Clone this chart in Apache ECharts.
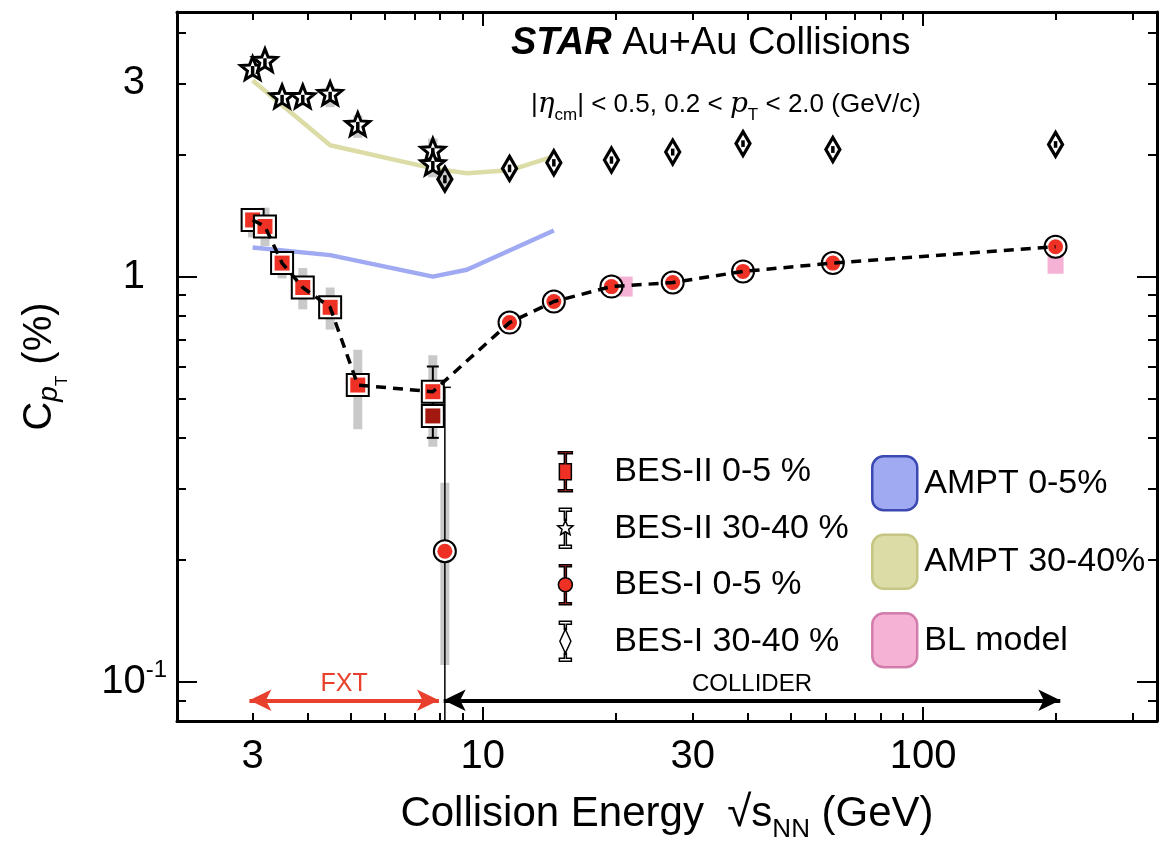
<!DOCTYPE html>
<html>
<head>
<meta charset="utf-8">
<script src="https://cdn.jsdelivr.net/npm/echarts@6/dist/echarts.min.js"></script>
<style>html,body{margin:0;padding:0;background:#fff}#chart{width:1161px;height:848px}</style>
</head>
<body>
<div id="chart"></div>
<script>
const FONT = "'Liberation Sans', Arial, Helvetica, sans-serif";

// ---------- axes ----------
const xRange = [2.02, 340];
const yRange = [0.08, 4.5];
const xMinorTicks = [3, 4, 5, 6, 7, 8, 9, 20, 30, 40, 50, 60, 70, 80, 90, 200, 300];
const xMajorTicks = [10, 100];
const xTickLabels = [3, 10, 30, 100];
const yMinorTicks = [0.09, 0.2, 0.3, 0.4, 0.5, 0.6, 0.7, 0.8, 0.9, 2, 3, 4];
const yMajorTicks = [0.1, 1];
const yTickLabels = [0.1, 1, 3];

// ---------- BES-II 0-5 % ----------
const besII05_x      = [3.0, 3.2, 3.5, 3.9, 4.5, 5.2, 7.7];
const besII05_y      = [1.38, 1.33, 1.08, 0.94, 0.84, 0.54, 0.52];
const besII05_statLo = [1.35, 1.30, 1.06, 0.92, 0.82, 0.52, 0.47];
const besII05_statHi = [1.41, 1.36, 1.10, 0.96, 0.86, 0.56, 0.60];
const besII05_sysLo  = [1.25, 1.19, 0.99, 0.83, 0.74, 0.42, 0.38];
const besII05_sysHi  = [1.46, 1.48, 1.15, 1.05, 0.94, 0.66, 0.64];
// second BES-II 0-5 % point at 7.7 GeV (dark marker)
const besII05b_x      = [7.7];
const besII05b_y      = [0.453];
const besII05b_statLo = [0.40];
const besII05b_statHi = [0.50];

// ---------- BES-II 30-40 % ----------
const besII3040_x      = [3.0, 3.2, 3.5, 3.9, 4.5, 5.2, 7.7, 7.7];
const besII3040_y      = [3.23, 3.38, 2.75, 2.75, 2.80, 2.35, 2.03, 1.88];
const besII3040_statLo = [3.15, 3.30, 2.69, 2.69, 2.74, 2.29, 1.98, 1.83];
const besII3040_statHi = [3.31, 3.46, 2.81, 2.81, 2.86, 2.41, 2.08, 1.93];
const besII3040_sysLo  = [3.10, 3.25, 2.64, 2.64, 2.62, 2.20, 1.76, 1.76];
const besII3040_sysHi  = [3.36, 3.52, 2.86, 2.86, 2.95, 2.50, 2.19, 2.19];

// ---------- BES-I 0-5 % ----------
const besI05_x      = [8.2, 11.5, 14.5, 19.6, 27, 39, 62.4, 200];
const besI05_y      = [0.21, 0.77, 0.868, 0.945, 0.967, 1.03, 1.08, 1.185];
const besI05_statLo = [0.05, 0.75, 0.85, 0.93, 0.95, 1.01, 1.06, 1.16];
const besI05_statHi = [0.533, 0.79, 0.886, 0.96, 0.985, 1.05, 1.10, 1.21];
const besI05_sysLo  = [0.11, 0.75, 0.85, 0.93, 0.95, 1.01, 1.06, 1.16];
const besI05_sysHi  = [0.31, 0.79, 0.886, 0.96, 0.985, 1.05, 1.10, 1.21];

// ---------- BES-I 30-40 % ----------
const besI3040_x      = [8.2, 11.5, 14.5, 19.6, 27, 39, 62.4, 200];
const besI3040_y      = [1.74, 1.85, 1.91, 1.94, 2.03, 2.13, 2.06, 2.12];
const besI3040_statLo = [1.70, 1.81, 1.87, 1.90, 1.99, 2.09, 2.02, 2.08];
const besI3040_statHi = [1.78, 1.89, 1.95, 1.98, 2.07, 2.17, 2.10, 2.16];

// ---------- models ----------
const ampt05_x   = [3.0, 4.5, 7.7, 9.2, 14.5];
const ampt05_y   = [1.18, 1.13, 1.00, 1.04, 1.30];
const ampt3040_x = [3.0, 4.5, 7.7, 9.2, 11.5, 14.5];
const ampt3040_y = [3.05, 2.11, 1.85, 1.80, 1.83, 1.98];
const bl_x = [21, 200];
const bl_y = [0.945, 1.076];

// ---------- FXT / COLLIDER arrows ----------
const fxtRange = [2.95, 7.95];
const colliderRange = [8.15, 205];
const arrowY = 0.09;

// ---------- colours ----------
const RED = '#ee3124', DARKRED = '#a3190f', SYS = '#c9c9c9', ARROWRED = '#e8402c';
const BLUE = '#9faaf3', BLUE_B = '#3c49b0', OLIVE = '#dcdca6', OLIVE_B = '#c6c684', PINK = '#f29fcb', PINK_B = '#c8679c';

function zip() { const arrs = Array.from(arguments); return arrs[0].map((_, i) => arrs.map(a => a[i])); }

function sysBars(xs, lo, hi) {
  return {
    type: 'custom', silent: true, z: 1, clip: true,
    data: zip(xs, lo, hi), encode: { x: 0, y: [1, 2] },
    renderItem: (params, api) => {
      const a = api.coord([api.value(0), api.value(2)]);
      const b = api.coord([api.value(0), api.value(1)]);
      return { type: 'rect', shape: { x: a[0] - 4.5, y: a[1], width: 9, height: b[1] - a[1] }, style: { fill: SYS } };
    }
  };
}
function statBars(xs, lo, hi, z, caps, lw) {
  return {
    type: 'custom', silent: true, z: z, clip: true,
    data: zip(xs, lo, hi), encode: { x: 0, y: [1, 2] },
    renderItem: (params, api) => {
      const a = api.coord([api.value(0), api.value(2)]);
      const b = api.coord([api.value(0), api.value(1)]);
      const st = { stroke: '#000', lineWidth: lw };
      const ch = [{ type: 'line', shape: { x1: a[0], y1: a[1], x2: b[0], y2: b[1] }, style: st }];
      if (caps) {
        ch.push({ type: 'line', shape: { x1: a[0] - 6, y1: a[1], x2: a[0] + 6, y2: a[1] }, style: st });
        ch.push({ type: 'line', shape: { x1: b[0] - 6, y1: b[1], x2: b[0] + 6, y2: b[1] }, style: st });
      }
      return { type: 'group', children: ch };
    }
  };
}
function starPts(cx, cy, R, r) {
  const p = [];
  for (let k = 0; k < 10; k++) {
    const ang = -Math.PI / 2 + k * Math.PI / 5;
    const rad = k % 2 === 0 ? R : r;
    p.push([cx + rad * Math.cos(ang), cy + rad * Math.sin(ang)]);
  }
  return p;
}
function drawMarker(kind, cx, cy, idx) {
  if (kind === 'square' || kind === 'squareDark') {
    return { type: 'group', children: [
      { type: 'rect', shape: { x: cx - 11, y: cy - 11, width: 22, height: 22 }, style: { fill: '#fff', stroke: '#000', lineWidth: 2 } },
      { type: 'rect', shape: { x: cx - 7.5, y: cy - 7.5, width: 15, height: 15 }, style: { fill: kind === 'square' ? RED : DARKRED } }
    ]};
  }
  if (kind === 'circle') {
    return { type: 'group', children: [
      { type: 'circle', shape: { cx: cx, cy: cy, r: 11 }, style: { fill: '#fff', stroke: '#000', lineWidth: 2 } },
      { type: 'circle', shape: { cx: cx, cy: cy, r: 7.5 }, style: { fill: RED } }
    ]};
  }
  if (kind === 'star') {
    return { type: 'polygon', shape: { points: starPts(cx, cy - 1, 12.5, 5.4) }, style: { fill: '#fff', stroke: '#000', lineWidth: 3 } };
  }
  // diamond
  return { type: 'polygon', shape: { points: [[cx, cy - 12], [cx + 7, cy], [cx, cy + 12], [cx - 7, cy]] },
    style: { fill: idx === 0 ? '#cfcfcf' : '#fff', stroke: '#000', lineWidth: 3.2 } };
}
function markers(name, xs, ys, kind, z) {
  return {
    type: 'custom', name: name, z: z, clip: true,
    data: zip(xs, ys), encode: { x: 0, y: 1 },
    renderItem: (params, api) => {
      const c = api.coord([api.value(0), api.value(1)]);
      return drawMarker(kind, c[0], c[1], params.dataIndex);
    }
  };
}

// dashed line through BES-II 0-5 % and BES-I 0-5 % (collider) points
const dashedData = zip(besII05_x, besII05_y).concat(zip(besI05_x.slice(1), besI05_y.slice(1)));

// legend icons (caps + marker)
const ICON_SQ = 'path://M3,0H17V2H11V12H16V28H11V38H17V40H3V38H9V28H4V12H9V2H3Z';
const ICON_STAR = 'path://M4,0H16V3H11V12H9V3H4Z M10,12L12.06,17.17L17.61,17.53L13.33,21.08L14.7,26.47L10,23.5L5.3,26.47L6.67,21.08L2.39,17.53L7.94,17.17Z M9,24H11V37H16V40H4V37H9Z';
const ICON_CIRC = 'path://M4,0H16V2H11V13H9V2H4Z M3,20A7,7 0 1,0 17,20A7,7 0 1,0 3,20Z M9,27H11V38H16V40H4V38H9Z';
const ICON_DIAM = 'path://M4,0H16V3H11V8H9V3H4Z M10,8L15.5,20L10,32L4.5,20Z M9,32H11V37H16V40H4V37H9Z';

const axisCommon = (type) => ({
  type: 'log', logBase: 10, splitLine: { show: false }, minorTick: { show: false },
  min: type === 'x' ? xRange[0] : yRange[0], max: type === 'x' ? xRange[1] : yRange[1]
});

const xAxes = [
  Object.assign(axisCommon('x'), {
    position: 'bottom',
    axisLine: { show: true, onZero: false, lineStyle: { color: '#000', width: 3 } },
    axisTick: { show: true, inside: true, length: 8, customValues: xMinorTicks, lineStyle: { color: '#000', width: 2 } },
    axisLabel: { show: true, customValues: xTickLabels, fontSize: 40, color: '#000', fontFamily: FONT, margin: 16 },
    name: '{n|Collision Energy  }{r|√}{n|s}{sub|NN}{n| (GeV)}',
    nameLocation: 'middle', nameGap: 64, nameMoveOverlap: false,
    nameTextStyle: { fontFamily: FONT, color: '#000', fontSize: 42, rich: {
      n: { fontSize: 42, fontFamily: FONT, color: '#000', lineHeight: 58 },
      r: { fontSize: 44, fontFamily: FONT, color: '#000', lineHeight: 58, fontWeight: 'lighter' },
      sub: { fontSize: 26, fontFamily: FONT, color: '#000', lineHeight: 58, verticalAlign: 'bottom' }
    } }
  }),
  Object.assign(axisCommon('x'), {
    position: 'bottom', axisLine: { show: false },
    axisTick: { show: true, inside: true, length: 14, customValues: xMajorTicks, lineStyle: { color: '#000', width: 2 } },
    axisLabel: { show: false }
  }),
  Object.assign(axisCommon('x'), {
    position: 'top',
    axisLine: { show: true, onZero: false, lineStyle: { color: '#000', width: 3 } },
    axisTick: { show: true, inside: true, length: 8, customValues: xMinorTicks, lineStyle: { color: '#000', width: 2 } },
    axisLabel: { show: false }
  }),
  Object.assign(axisCommon('x'), {
    position: 'top', axisLine: { show: false },
    axisTick: { show: true, inside: true, length: 14, customValues: xMajorTicks, lineStyle: { color: '#000', width: 2 } },
    axisLabel: { show: false }
  })
];

const yAxes = [
  Object.assign(axisCommon('y'), {
    position: 'left',
    axisLine: { show: true, onZero: false, lineStyle: { color: '#000', width: 3 } },
    axisTick: { show: true, inside: true, length: 9, customValues: yMinorTicks, lineStyle: { color: '#000', width: 2 } },
    axisLabel: {
      show: true, customValues: yTickLabels, margin: 10, color: '#000', fontFamily: FONT, fontSize: 40,
      formatter: (v) => Math.abs(v - 0.1) < 1e-9 ? '{a|10}{e|-1}' : '{b|' + v + '}',
      rich: {
        a: { fontSize: 40, fontFamily: FONT, color: '#000', lineHeight: 46 },
        b: { fontSize: 40, fontFamily: FONT, color: '#000', lineHeight: 46, padding: [0, 22, 0, 0] },
        e: { fontSize: 24, fontFamily: FONT, color: '#000', lineHeight: 46, verticalAlign: 'top' }
      }
    },
    name: '{c|C}{p|p}{t|T}{c| (%)}',
    nameLocation: 'middle', nameGap: 106, nameRotate: 90, nameMoveOverlap: false,
    nameTextStyle: { fontFamily: FONT, color: '#000', fontSize: 40, rich: {
      c: { fontSize: 40, fontFamily: FONT, color: '#000', lineHeight: 62 },
      p: { fontSize: 28, fontFamily: FONT, color: '#000', lineHeight: 62, fontStyle: 'italic', verticalAlign: 'bottom', padding: [0, 0, 8, 0] },
      t: { fontSize: 17, fontFamily: FONT, color: '#000', lineHeight: 62, verticalAlign: 'bottom' }
    } }
  }),
  Object.assign(axisCommon('y'), {
    position: 'left', axisLine: { show: false },
    axisTick: { show: true, inside: true, length: 20, customValues: yMajorTicks, lineStyle: { color: '#000', width: 2 } },
    axisLabel: { show: false }
  }),
  Object.assign(axisCommon('y'), {
    position: 'right',
    axisLine: { show: true, onZero: false, lineStyle: { color: '#000', width: 3 } },
    axisTick: { show: true, inside: true, length: 9, customValues: yMinorTicks, lineStyle: { color: '#000', width: 2 } },
    axisLabel: { show: false }
  }),
  Object.assign(axisCommon('y'), {
    position: 'right', axisLine: { show: false },
    axisTick: { show: true, inside: true, length: 20, customValues: yMajorTicks, lineStyle: { color: '#000', width: 2 } },
    axisLabel: { show: false }
  })
];

const option = {
  animation: false,
  backgroundColor: '#fff',
  textStyle: { fontFamily: FONT },
  title: [
    {
      left: 506, top: 20,
      text: '{b|STAR} {n|Au+Au Collisions}',
      textStyle: { fontSize: 38, fontWeight: 'normal', color: '#000', fontFamily: FONT, rich: {
        b: { fontSize: 38, fontWeight: 'bold', fontStyle: 'italic', color: '#000', fontFamily: FONT },
        n: { fontSize: 38, color: '#000', fontFamily: FONT }
      } }
    },
    {
      left: 526, top: 81,
      text: '{n||}{i|η}{s|cm}{n|| < 0.5, 0.2 < }{i|p}{s|T}{n| < 2.0 (GeV/c)}',
      textStyle: { fontSize: 26, fontWeight: 'normal', color: '#000', fontFamily: FONT, rich: {
        n: { fontSize: 26, color: '#000', fontFamily: FONT, lineHeight: 38 },
        i: { fontSize: 28, fontStyle: 'italic', color: '#000', fontFamily: "'DejaVu Serif', serif", lineHeight: 38 },
        s: { fontSize: 17, color: '#000', fontFamily: FONT, lineHeight: 38, verticalAlign: 'bottom' }
      } }
    }
  ],
  legend: [
    {
      orient: 'vertical', left: 552, top: 446, itemWidth: 20, itemHeight: 40, itemGap: 15,
      selectedMode: false,
      textStyle: { fontSize: 34, color: '#000', fontFamily: FONT, padding: [0, 0, 0, 34] },
      data: [
        { name: 'BES-II 0-5 %', icon: ICON_SQ, itemStyle: { color: RED, borderColor: '#000', borderWidth: 1.5 } },
        { name: 'BES-II 30-40 %', icon: ICON_STAR, itemStyle: { color: '#fff', borderColor: '#000', borderWidth: 1.5 } },
        { name: 'BES-I 0-5 %', icon: ICON_CIRC, itemStyle: { color: RED, borderColor: '#000', borderWidth: 1.5 } },
        { name: 'BES-I 30-40 %', icon: ICON_DIAM, itemStyle: { color: '#fff', borderColor: '#000', borderWidth: 1.5 } }
      ]
    },
    {
      orient: 'vertical', left: 866, top: 450, itemWidth: 45, itemHeight: 54, itemGap: 22,
      selectedMode: false, icon: 'roundRect',
      textStyle: { fontSize: 34, color: '#000', fontFamily: FONT, padding: [0, 0, 0, 2] },
      data: [
        { name: 'AMPT 0-5%', icon: 'roundRect', itemStyle: { color: BLUE, borderColor: BLUE_B, borderWidth: 2.5 } },
        { name: 'AMPT 30-40%', icon: 'roundRect', itemStyle: { color: OLIVE, borderColor: OLIVE_B, borderWidth: 2.5 } },
        { name: 'BL model', icon: 'roundRect', itemStyle: { color: PINK, borderColor: PINK_B, borderWidth: 2.5 } }
      ]
    }
  ],
  grid: { left: 177, right: 4, top: 12, bottom: 125 },
  xAxis: xAxes,
  yAxis: yAxes,
  series: [
    // systematic bars
    sysBars(besII05_x, besII05_sysLo, besII05_sysHi),
    sysBars(besII3040_x, besII3040_sysLo, besII3040_sysHi),
    sysBars(besI05_x, besI05_sysLo, besI05_sysHi),
    // models
    { type: 'line', name: 'AMPT 0-5%', data: zip(ampt05_x, ampt05_y), symbol: 'none', z: 2, silent: true,
      lineStyle: { color: BLUE, width: 4.5 }, itemStyle: { color: BLUE } },
    { type: 'line', name: 'AMPT 30-40%', data: zip(ampt3040_x, ampt3040_y), symbol: 'none', z: 2, silent: true,
      lineStyle: { color: OLIVE, width: 4.5 }, itemStyle: { color: OLIVE } },
    { type: 'scatter', name: 'BL model', data: zip(bl_x, bl_y), symbol: 'rect', symbolSize: [16, 20], z: 3, silent: true,
      itemStyle: { color: PINK } },
    // stat bars under markers
    statBars(besII05_x, besII05_statLo, besII05_statHi, 3, true, 2),
    statBars(besII05b_x, besII05b_statLo, besII05b_statHi, 3, true, 2),
    statBars(besI05_x, besI05_statLo, besI05_statHi, 3, true, 1.5),
    // markers
    markers('BES-II 0-5 %', besII05_x, besII05_y, 'square', 5),
    markers('BES-II 0-5 % (7.7)', besII05b_x, besII05b_y, 'squareDark', 5),
    markers('BES-I 0-5 %', besI05_x, besI05_y, 'circle', 5),
    markers('BES-II 30-40 %', besII3040_x, besII3040_y, 'star', 5),
    markers('BES-I 30-40 %', besI3040_x, besI3040_y, 'diamond', 5),
    // stat bars drawn on open markers
    statBars(besII3040_x, besII3040_statLo, besII3040_statHi, 6, false, 3.5),
    statBars(besI3040_x, besI3040_statLo, besI3040_statHi, 6, false, 3.5),
    // dashed guide line + FXT/COLLIDER arrows
    { type: 'line', name: 'guide', data: dashedData, symbol: 'none', z: 7, silent: true,
      lineStyle: { color: '#000', width: 3.5, type: [10, 7] },
      markLine: {
        silent: true, animation: false, symbol: ['arrow', 'arrow'], symbolSize: [16, 22],
        label: { show: true, position: 'middle', fontSize: 24, fontFamily: FONT, distance: 4 },
        data: [
          [ { coord: [fxtRange[0], arrowY], lineStyle: { color: ARROWRED, width: 4, type: 'solid' }, itemStyle: { color: ARROWRED },
              label: { formatter: 'FXT', color: ARROWRED, fontSize: 25 } },
            { coord: [fxtRange[1], arrowY] } ],
          [ { coord: [colliderRange[0], arrowY], lineStyle: { color: '#000', width: 4, type: 'solid' }, itemStyle: { color: '#000' },
              label: { formatter: 'COLLIDER', color: '#000' } },
            { coord: [colliderRange[1], arrowY] } ]
        ]
      }
    }
  ]
};

const chart = echarts.init(document.getElementById('chart'));
chart.setOption(option);
</script>
</body>
</html>
